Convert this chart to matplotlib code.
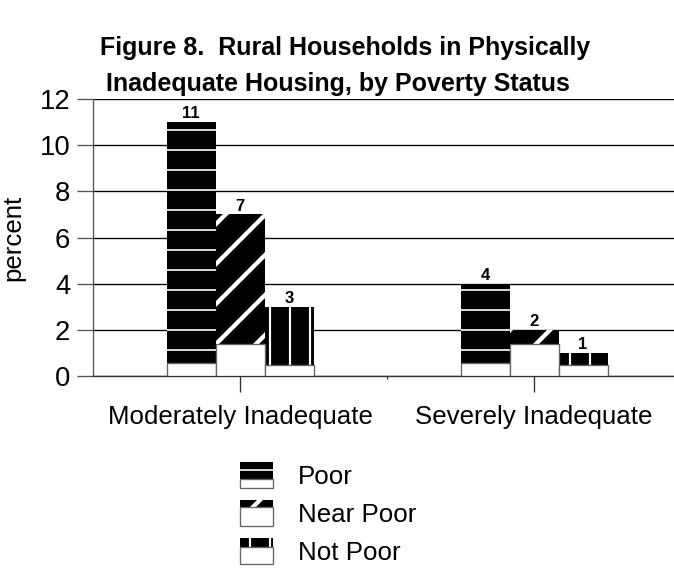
import matplotlib
matplotlib.use('Agg')
import matplotlib.pyplot as plt
from matplotlib.patches import Rectangle
from matplotlib.legend_handler import HandlerBase
import numpy as np

categories = ['Moderately Inadequate', 'Severely Inadequate']
series = ['Poor', 'Near Poor', 'Not Poor']
poor = [11, 4]
near_poor = [7, 2]
not_poor = [3, 1]
yticks = [0, 2, 4, 6, 8, 10, 12]

plt.rcParams['font.family'] = ['Liberation Sans', 'DejaVu Sans']

DPI = 120
W, H = 674, 572
fig = plt.figure(figsize=(W / DPI, H / DPI), dpi=DPI)
ax = fig.add_axes([93 / W, 1 - 376 / H, 1 - 93 / W, 277 / H])

hatches = ['-', '/', '|']
hatch_lw = [1.0, 2.6, 1.3]
base = [0.55, 1.38, 0.47]      # white lower band of each pattern fill
legend_frac = [0.65, 0.25, 0.35]
w = 1 / 6
x = np.arange(len(categories))

for i, (vals, h, hl, b) in enumerate(zip([poor, near_poor, not_poor], hatches, hatch_lw, base)):
    pos = x + (i - 1) * w
    bars = ax.bar(pos, vals, width=w, color='black', edgecolor='white',
                  linewidth=0, hatch=h, zorder=3)
    for bar in bars:
        if hasattr(bar, 'set_hatch_linewidth'):
            bar.set_hatch_linewidth(hl)
    ax.bar(pos, [b] * len(vals), width=w, color='white', edgecolor='#666666',
           linewidth=0.8, zorder=4)
    for p, v in zip(pos, vals):
        ax.annotate(str(v), (p, v), xytext=(0, 0.5), textcoords='offset points',
                    ha='center', va='bottom', fontsize=10, fontweight='bold', zorder=5)

ax.set_xlim(-0.5, (W - 93) / 294 - 0.5)
ax.set_ylim(0, 12)
ax.set_yticks(yticks)
ax.set_yticklabels([str(t) for t in yticks], fontsize=16.5)
ax.set_xticks(x)
ax.set_xticklabels(categories, fontsize=15.5)
ax.set_xticks([0.5], minor=True)
ax.tick_params(axis='x', which='major', length=9.6, width=0.8, color='#333333', pad=8)
ax.tick_params(axis='x', which='minor', length=2, width=0.8, color='#333333')
ax.tick_params(axis='y', length=9.6, width=0.8, color='#555555', pad=4)
ax.set_axisbelow(True)
ax.yaxis.grid(True, color='black', linewidth=0.8)
for s in ['top', 'right']:
    ax.spines[s].set_visible(False)
ax.spines['left'].set_color('#555555')
ax.spines['bottom'].set_color('#333333')
ax.spines['left'].set_linewidth(0.8)
ax.spines['bottom'].set_linewidth(0.8)
ax.set_ylabel('percent', fontsize=15.5)
ax.yaxis.set_label_coords(-(93 - 25) / (W - 93), 0.5)

fig.text(345 / W, 1 - 48 / H, 'Figure 8.  Rural Households in Physically',
         ha='center', va='center', fontsize=15, fontweight='bold')
fig.text(338 / W, 1 - 84 / H, 'Inadequate Housing, by Poverty Status',
         ha='center', va='center', fontsize=15, fontweight='bold')


class SplitHandler(HandlerBase):
    def __init__(self, frac, hatch, hlw):
        super().__init__()
        self.frac, self.hatch, self.hlw = frac, hatch, hlw

    def create_artists(self, legend, orig_handle, xdescent, ydescent, width, height, fontsize, trans):
        f = self.frac
        top = Rectangle((-xdescent, -ydescent + height * (1 - f)), width, height * f,
                        facecolor='black', edgecolor='white', linewidth=0,
                        hatch=self.hatch, transform=trans)
        if hasattr(top, 'set_hatch_linewidth'):
            top.set_hatch_linewidth(self.hlw)
        bot = Rectangle((-xdescent, -ydescent), width, height * (1 - f),
                        facecolor='white', edgecolor='#666666', linewidth=0.8, transform=trans)
        return [top, bot]


handles = [Rectangle((0, 0), 1, 1) for _ in series]
hmap = {hd: SplitHandler(fr, ht, hl) for hd, fr, ht, hl in zip(handles, legend_frac, hatches, hatch_lw)}
fs = 15.5
fpx = fs * DPI / 72
fig.legend(handles, series, handler_map=hmap, loc='upper left',
           bbox_to_anchor=(240 / W, 1 - 462 / H), frameon=False, fontsize=fs,
           borderpad=0, borderaxespad=0, handlelength=33 / fpx, handleheight=31 / fpx,
           handletextpad=25 / fpx, labelspacing=11 / fpx)

fig.savefig('out.png', dpi=DPI)
